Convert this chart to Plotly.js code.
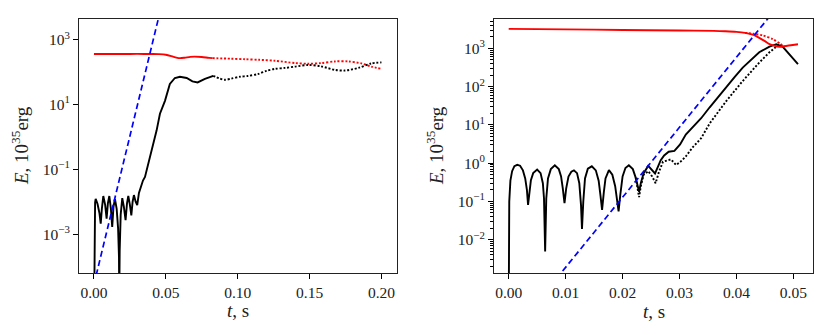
<!DOCTYPE html>
<html>
<head>
<meta charset="utf-8">
<script src="https://cdn.plot.ly/plotly-3.0.1.min.js"></script>
<style>html,body{margin:0;padding:0;background:#fff;}#chart{width:830px;height:335px;}</style>
</head>
<body>
<div id="chart"></div>
<script>
// ---------- Left panel data ----------
const leftBlackSolidT = [0, 0.0004, 0.0008, 0.0012, 0.0025, 0.0038, 0.0047, 0.0055, 0.0065, 0.0078, 0.0088, 0.0097, 0.0107, 0.0118, 0.0127, 0.0136, 0.0146, 0.0158, 0.0168, 0.0174, 0.0176, 0.0179, 0.0186, 0.0197, 0.0208, 0.022, 0.023, 0.0239, 0.025, 0.026, 0.0269, 0.0278, 0.029, 0.0301, 0.0313, 0.0327, 0.0341, 0.0355, 0.0378, 0.0413, 0.0436, 0.0459, 0.0494, 0.0528, 0.0563, 0.0598, 0.0645, 0.0685, 0.0721, 0.0772, 0.083];
const leftBlackSolidE = [1e-6, 0.003, 0.0095, 0.0123, 0.0085, 0.0045, 0.0021, 0.006, 0.015, 0.008, 0.003, 0.009, 0.015, 0.006, 0.00166, 0.007, 0.0123, 0.006, 0.0015, 0.0002, 0.00001, 0.0003, 0.004, 0.0129, 0.007, 0.0027, 0.009, 0.015, 0.008, 0.0038, 0.01, 0.016, 0.01, 0.0078, 0.0186, 0.032, 0.045, 0.058, 0.15, 0.62, 1.6, 5.2, 13, 43, 66, 72, 66, 52, 48, 62, 77];
const leftBlackDotT = [0.083, 0.087, 0.091, 0.0955, 0.1015, 0.107, 0.114, 0.12, 0.126, 0.133, 0.1398, 0.149, 0.158, 0.1676, 0.1745, 0.184, 0.193, 0.2];
const leftBlackDotE = [77, 65, 58, 63, 72, 76, 87, 110, 126, 135, 148, 166, 151, 117, 112, 135, 186, 200];
const leftRedSolidT = [0, 0.01, 0.02, 0.03, 0.04, 0.045, 0.05, 0.055, 0.058, 0.0598, 0.063, 0.067, 0.07, 0.075, 0.08, 0.0825];
const leftRedSolidE = [363, 363, 363, 365, 363, 360, 345, 300, 276, 270, 278, 295, 300, 292, 275, 270];
const leftRedDotT = [0.0825, 0.095, 0.105, 0.115, 0.126, 0.14, 0.149, 0.158, 0.1676, 0.177, 0.186, 0.193, 0.2];
const leftRedDotE = [270, 260, 250, 240, 224, 190, 182, 190, 214, 214, 186, 148, 126];
const blueT = [0, 0.05];
const blueE = [2.8e-5, 4.0e4];

// ---------- Right panel data ----------
const rightBlackSolidT = [0, 0.0001, 0.0003, 0.0006, 0.001, 0.0015, 0.002, 0.0025, 0.0029, 0.0032, 0.0034, 0.0036, 0.0039, 0.0043, 0.005, 0.0056, 0.006, 0.0062, 0.0064, 0.0066, 0.0069, 0.0074, 0.0081, 0.0088, 0.0092, 0.0095, 0.0098, 0.0101, 0.0105, 0.011, 0.01146, 0.012, 0.0124, 0.0127, 0.01287, 0.0131, 0.0134, 0.0139, 0.0146, 0.0153, 0.0158, 0.0161, 0.0164, 0.0167, 0.017, 0.0176, 0.0182, 0.0187, 0.019, 0.0193, 0.0196, 0.02, 0.0205, 0.0211, 0.0218, 0.0223, 0.0227, 0.0229, 0.0232, 0.0237, 0.0245, 0.025, 0.0254, 0.0257, 0.0262, 0.0267, 0.0273, 0.0281, 0.0291, 0.0301, 0.0311, 0.0323, 0.0338, 0.0353, 0.0368, 0.0382, 0.0397, 0.0411, 0.0425, 0.044, 0.0458, 0.047, 0.0481, 0.0493, 0.0508];
const rightBlackSolidE = [1e-4, 0.1, 0.35, 0.62, 0.84, 0.91, 0.86, 0.65, 0.40, 0.2, 0.081, 0.18, 0.36, 0.55, 0.68, 0.55, 0.3, 0.12, 0.0049, 0.12, 0.4, 0.7, 0.88, 0.7, 0.45, 0.22, 0.091, 0.22, 0.45, 0.6, 0.65, 0.55, 0.3, 0.08, 0.019, 0.1, 0.4, 0.72, 0.83, 0.65, 0.35, 0.15, 0.06, 0.17, 0.4, 0.66, 0.5, 0.25, 0.1, 0.055, 0.15, 0.45, 0.75, 0.88, 0.7, 0.42, 0.24, 0.18, 0.3, 0.55, 0.85, 0.72, 0.6, 0.54, 0.8, 1.2, 1.6, 2.0, 2.1, 3.1, 5.6, 8.5, 15, 29, 55, 100, 180, 316, 500, 794, 1120, 1290, 1120, 708, 390];
const rightBlackDotT = [0.0223, 0.0227, 0.0229, 0.0232, 0.0237, 0.0245, 0.0252, 0.0258, 0.0264, 0.0271, 0.0285, 0.0294, 0.0302, 0.0311, 0.0323, 0.0338, 0.0353, 0.0382, 0.0411, 0.044, 0.0458, 0.0475, 0.0482];
const rightBlackDotE = [0.42, 0.2, 0.13, 0.25, 0.5, 0.62, 0.45, 0.3, 0.6, 1.1, 1.26, 0.9, 1.1, 1.5, 2.6, 4.5, 11, 42, 141, 427, 794, 1290, 1150];
const rightRedSolidT = [0, 0.01, 0.02, 0.03, 0.036, 0.038, 0.04, 0.0415, 0.043, 0.044, 0.045, 0.0458, 0.0467, 0.0476, 0.0487, 0.0499, 0.0508];
const rightRedSolidE = [3240, 3150, 3050, 2950, 2880, 2820, 2720, 2560, 2250, 1900, 1550, 1300, 1175, 1110, 1160, 1230, 1290];
const rightRedDotT = [0.0415, 0.043, 0.0446, 0.0464, 0.0478, 0.0484];
const rightRedDotE = [2560, 2420, 2200, 1740, 1290, 1120];

// ---------- Tick labels ----------
const leftXTicks = [0, 0.05, 0.10, 0.15, 0.20];
const rightXTicks = [0, 0.01, 0.02, 0.03, 0.04, 0.05];
const leftYTickVals = [1e-3, 1e-1, 1e1, 1e3];
const leftYTickText = ['10<sup>−3</sup>', '10<sup>−1</sup>', '10<sup>1</sup>', '10<sup>3</sup>'];
const rightYTickVals = [1e-2, 1e-1, 1e0, 1e1, 1e2, 1e3];
const rightYTickText = ['10<sup>−2</sup>', '10<sup>−1</sup>', '10<sup>0</sup>', '10<sup>1</sup>', '10<sup>2</sup>', '10<sup>3</sup>'];

const rightMinor = [];
for (let p = -3; p <= 3; p++) for (let m = 2; m <= 9; m++) rightMinor.push(m * Math.pow(10, p));

const FONT = '"Liberation Serif", "DejaVu Serif", serif';
const solidW = 1.9, dotDash = '2px,1.8px';

function tr(x, y, color, dash, ax, smooth) {
  return {x: x, y: y, type: 'scatter', mode: 'lines', xaxis: ax[0], yaxis: ax[1],
    line: {color: color, width: dash === 'dash' ? 1.7 : solidW, dash: dash === 'dash' ? '6px,3.5px' : dash,
      shape: smooth ? 'spline' : 'linear', smoothing: smooth ? 0.8 : 1},
    hoverinfo: 'skip', showlegend: false};
}
const L = ['x', 'y'], R = ['x2', 'y2'];
const data = [
  tr(leftRedSolidT, leftRedSolidE, '#ff0000', 'solid', L, true),
  tr(leftRedDotT, leftRedDotE, '#ff0000', dotDash, L, true),
  tr(leftBlackSolidT, leftBlackSolidE, '#000000', 'solid', L, false),
  tr(leftBlackDotT, leftBlackDotE, '#000000', dotDash, L, true),
  tr(blueT, blueE, '#0000ff', 'dash', L, false),
  tr(rightBlackSolidT, rightBlackSolidE, '#000000', 'solid', R, false),
  tr(rightBlackDotT, rightBlackDotE, '#000000', dotDash, R, false),
  tr(rightRedSolidT, rightRedSolidE, '#ff0000', 'solid', R, true),
  tr(rightRedDotT, rightRedDotE, '#ff0000', dotDash, R, true),
  tr(blueT, blueE, '#0000ff', 'dash', R, false)
];

const axBase = {showline: true, mirror: true, linecolor: '#222', linewidth: 1, showgrid: false, zeroline: false,
  ticks: 'outside', ticklen: 5, tickwidth: 1.3, tickcolor: '#000', tickfont: {family: FONT, size: 15.5, color: '#222'}};

const layout = {
  width: 830, height: 335,
  margin: {l: 0, r: 0, t: 19, b: 62},
  font: {family: FONT, size: 15.5, color: '#222'},
  paper_bgcolor: '#fff', plot_bgcolor: '#fff',
  showlegend: false,
  xaxis: Object.assign({}, axBase, {domain: [79/830, 397/830], range: [-0.0104, 0.2108], tickmode: 'array', tickvals: leftXTicks, tickformat: '.2f', anchor: 'y'}),
  yaxis: Object.assign({}, axBase, {type: 'log', range: [-4.2, 3.64], tickmode: 'array', tickvals: leftYTickVals, ticktext: leftYTickText, anchor: 'x'}),
  xaxis2: Object.assign({}, axBase, {domain: [494/830, 813/830], range: [-0.00258, 0.05344], tickmode: 'array', tickvals: rightXTicks, tickformat: '.2f', anchor: 'y2'}),
  yaxis2: Object.assign({}, axBase, {type: 'log', range: [-2.87, 3.77], tickmode: 'array', tickvals: rightYTickVals, ticktext: rightYTickText, anchor: 'x2',
    minor: {tickmode: 'array', tickvals: rightMinor, ticks: 'outside', ticklen: 3, tickwidth: 0.9, tickcolor: '#000'}}),
  annotations: [
    {text: '<i>E</i>, 10<sup>35</sup>erg', xref: 'paper', yref: 'paper', x: 20/830, y: 0.5, showarrow: false, textangle: -90, font: {family: FONT, size: 19, color: '#222'}, xanchor: 'center', yanchor: 'middle'},
    {text: '<i>E</i>, 10<sup>35</sup>erg', xref: 'paper', yref: 'paper', x: 435/830, y: 0.5, showarrow: false, textangle: -90, font: {family: FONT, size: 19, color: '#222'}, xanchor: 'center', yanchor: 'middle'},
    {text: '<i>t</i>, s', xref: 'paper', yref: 'paper', x: 238/830, y: (273-310)/254, showarrow: false, font: {family: FONT, size: 19, color: '#222'}, xanchor: 'center', yanchor: 'middle'},
    {text: '<i>t</i>, s', xref: 'paper', yref: 'paper', x: 653.5/830, y: (273-311)/254, showarrow: false, font: {family: FONT, size: 19, color: '#222'}, xanchor: 'center', yanchor: 'middle'}
  ]
};

Plotly.newPlot('chart', data, layout, {displayModeBar: false});
</script>
</body>
</html>
